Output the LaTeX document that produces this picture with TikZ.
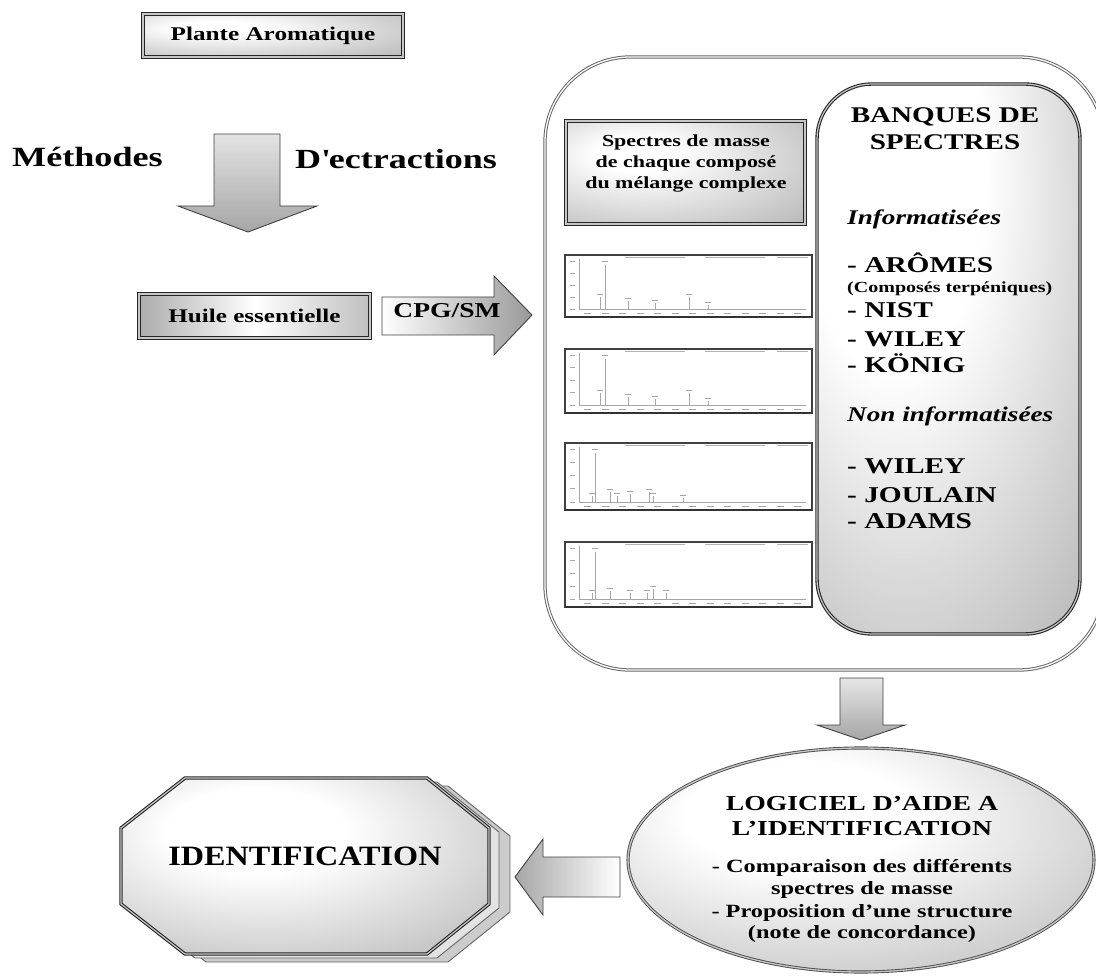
\documentclass[tikz,border=0pt]{standalone}
\usepackage{fontspec}
\setmainfont{Liberation Serif}[FakeStretch=1.3]
\newfontfamily\nfont{Liberation Serif}[FakeStretch=1.15]
\usetikzlibrary{shapes.geometric,calc}
\newcommand\fz[2]{\fontsize{#1}{#2}\selectfont}
\pgfdeclareradialshading{softA}{\pgfpoint{-12bp}{10bp}}{color(0bp)=(white);color(8bp)=(white);color(50bp)=(gray!68);color(75bp)=(gray!92)}
\pgfdeclareradialshading{softB}{\pgfpoint{-8bp}{12bp}}{color(0bp)=(white);color(12bp)=(white);color(48bp)=(gray!66);color(75bp)=(gray!88)}
\pgfdeclareradialshading{softC}{\pgfpoint{-14bp}{22bp}}{color(0bp)=(white);color(18bp)=(white);color(55bp)=(gray!72);color(80bp)=(gray!92)}
\newcommand\chart[5]{%
  \begin{scope}[shift={(#1,#2)}]
    \draw[black!75, line width=1.1pt] (0,0) rectangle (247,#3);
    \draw[black!80, line width=1.6pt] (0,#3) -- (247,#3);
    \draw[gray!70, line width=0.6pt] (14,4) -- (14,{#3-8}) -- (241,{#3-8});
    \foreach \k in {0,...,4} {\draw[gray!70, line width=0.7pt] (5,{6+\k*(#3-14)/4}) -- (10,{6+\k*(#3-14)/4});}
    \foreach \k in {0,...,12} {\draw[gray!70, line width=0.8pt] ({19+\k*17.5},{#3-4}) -- ({26+\k*17.5},{#3-4});}
    \draw[gray!60, line width=0.6pt] (60,2) -- (120,2) (140,2) -- (200,2) (212,2) -- (243,2);
    \draw[gray!70, line width=0.8pt] (#4,{#3-8}) -- (#4,10);
    \draw[gray!70, line width=0.8pt] ({#4-3},6) -- ({#4+3},6);
    \foreach \px/\ph in {#5} {
      \draw[gray!70, line width=0.8pt] (\px,{#3-8}) -- (\px,{#3-8-\ph});
      \draw[gray!70, line width=0.7pt] ({\px-3},{#3-11-\ph}) -- ({\px+3},{#3-11-\ph});
    }
  \end{scope}}
\newcommand\octpath{(185,778) -- (427,778) -- (489,828) -- (489,904) -- (427,954) -- (185,954) -- (121,904) -- (121,828) -- cycle}
\begin{document}
\begin{tikzpicture}[x=1pt,y=-1pt,
  dbl/.style={draw=black!85, double=gray!45, double distance=1.2pt, line width=1.1pt},
  arr/.style={draw=black!75, line width=0.9pt, line join=miter},
  bl/.style={anchor=base west, inner sep=0pt}]
\useasboundingbox (0,0) rectangle (1096,976);
\clip (0,0) rectangle (1096,976);

% top box
\node[dbl, shade, shading=softA, minimum width=260pt, minimum height=43pt, inner sep=0pt,
      font=\bfseries\fz{19.4}{21}] (plante) at (273,35.5) {Plante Aromatique};

% extraction arrow
\path[arr, top color=gray!22, bottom color=gray!70]
  (214,134) -- (280,134) -- (280,206) -- (317,206) -- (248,232) -- (178,206) -- (214,206) -- cycle;
\node[bl, font=\bfseries\fz{27.8}{30}] (meth) at (12,167) {Méthodes};
\node[bl, font=\bfseries\fz{27.7}{30}] (dext) at (295,169) {D\textquotesingle ectractions};

% huile essentielle
\node[dbl, shade, left color=gray!65, right color=gray!50, middle color=white,
      minimum width=231pt, minimum height=44pt, inner sep=0pt,
      font=\bfseries\fz{19.3}{21}] (huile) at (254.5,316) {Huile essentielle};

% CPG/SM arrow
\path[arr, left color=white, right color=gray!80]
  (382,297) -- (494,297) -- (494,276) -- (532,315) -- (494,355) -- (494,335) -- (382,335) -- cycle;
\node[inner sep=0pt, font=\bfseries\fz{21.2}{23}] (cpg) at (447,311) {CPG/SM};

% big rounded box
\node[draw=black!60, double=white, double distance=1.3pt, line width=1pt, rounded corners=85pt,
      minimum width=559pt, minimum height=613pt] (bigbox) at (824.5,363.5) {};

% banques box
\node[dbl, draw=black!85, shade, shading=softC, rounded corners=55pt,
      minimum width=263pt, minimum height=550pt] (banques) at (948.5,359) {};
\node[anchor=base, inner sep=0pt, font=\bfseries\fz{22.4}{24}] (bt1) at (945,123) {BANQUES DE};
\node[anchor=base, inner sep=0pt, font=\bfseries\fz{22.4}{24}] (bt2) at (945,150) {SPECTRES};
\node[bl, font=\bfseries\itshape\fz{20.9}{23}] (b1) at (847,225) {Informatisées};
\node[bl, font=\bfseries\fz{22.6}{24}] (b2) at (847,273) {- ARÔMES};
\node[bl, font=\bfseries\fz{15.4}{17}] (b3) at (847,293) {(Composés terpéniques)};
\node[bl, font=\bfseries\fz{22.6}{24}] (b4) at (847,318) {- NIST};
\node[bl, font=\bfseries\fz{22.6}{24}] (b5) at (847,347) {- WILEY};
\node[bl, font=\bfseries\fz{22.6}{24}] (b6) at (847,373) {- KÖNIG};
\node[bl, font=\bfseries\itshape\fz{20.9}{23}] (b7) at (847,422) {Non informatisées};
\node[bl, font=\bfseries\fz{22.6}{24}] (b8) at (847,473) {- WILEY};
\node[bl, font=\bfseries\fz{22.6}{24}] (b9) at (847,502) {- JOULAIN};
\node[bl, font=\bfseries\fz{22.6}{24}] (b10) at (847,528) {- ADAMS};

% spectres box
\node[dbl, shade, shading=softA, minimum width=239pt, minimum height=103pt] (spbox) at (685.5,172.5) {};
\node[align=center, inner sep=0pt, font=\bfseries\fz{16.9}{21}] (sptext) at (686,164)
  {Spectres de masse\\de chaque composé\\du mélange complexe};

% spectra
\chart{565}{255}{62}{40}{35/12, 63/8, 90/6, 124/12, 143/4}
\chart{565}{349}{64}{40}{35/12, 63/8, 90/6, 124/12, 143/4}
\chart{565}{443}{67}{30}{27/6, 45/10, 52/6, 65/8, 84/10, 88/6, 118/4}
\chart{565}{542}{65}{30}{27/6, 45/8, 65/6, 82/6, 88/10, 101/6}

% down arrow to logiciel
\path[arr, top color=gray!20, bottom color=gray!70]
  (840,678) -- (883,678) -- (883,725) -- (905,725) -- (861,740) -- (817,725) -- (840,725) -- cycle;

% ellipse
\node[ellipse, draw=black!70, double=gray!45, double distance=1.3pt, line width=0.9pt,
      shade, shading=softB, minimum width=466pt, minimum height=224pt] (logiciel) at (861,860) {};
\node[anchor=base, inner sep=0pt, font=\bfseries\fz{21.3}{23}] (l1) at (862,810) {LOGICIEL D’AIDE A};
\node[anchor=base, inner sep=0pt, font=\bfseries\fz{21.3}{23}] (l2) at (862,835) {L’IDENTIFICATION};
\node[anchor=base, inner sep=0pt, font=\bfseries\fz{18.7}{21}] (l3) at (862,872) {- Comparaison des différents};
\node[anchor=base, inner sep=0pt, font=\bfseries\fz{18.7}{21}] (l4) at (862,894) {spectres de masse};
\node[anchor=base, inner sep=0pt, font=\bfseries\fz{18.7}{21}] (l5) at (862,917) {- Proposition d’une structure};
\node[anchor=base, inner sep=0pt, font=\bfseries\fz{18.7}{21}] (l6) at (862,938) {(note de concordance)};

% left arrow
\path[arr, left color=gray!70, right color=white]
  (620,857) -- (543,857) -- (543,839) -- (515,877) -- (543,915) -- (543,897) -- (620,897) -- cycle;

% identification octagon
\path[draw=black!60, line width=0.9pt, fill=gray!40, shift={(21,8)}] \octpath;
\path[draw=black!60, line width=0.9pt, fill=gray!22, shift={(10,4)}] \octpath;
\path[dbl, shade, shading=softB] \octpath;
\node[inner sep=0pt, font=\nfont\bfseries\fz{28}{30}] (ident) at (305,856) {IDENTIFICATION};
\end{tikzpicture}
\end{document}
